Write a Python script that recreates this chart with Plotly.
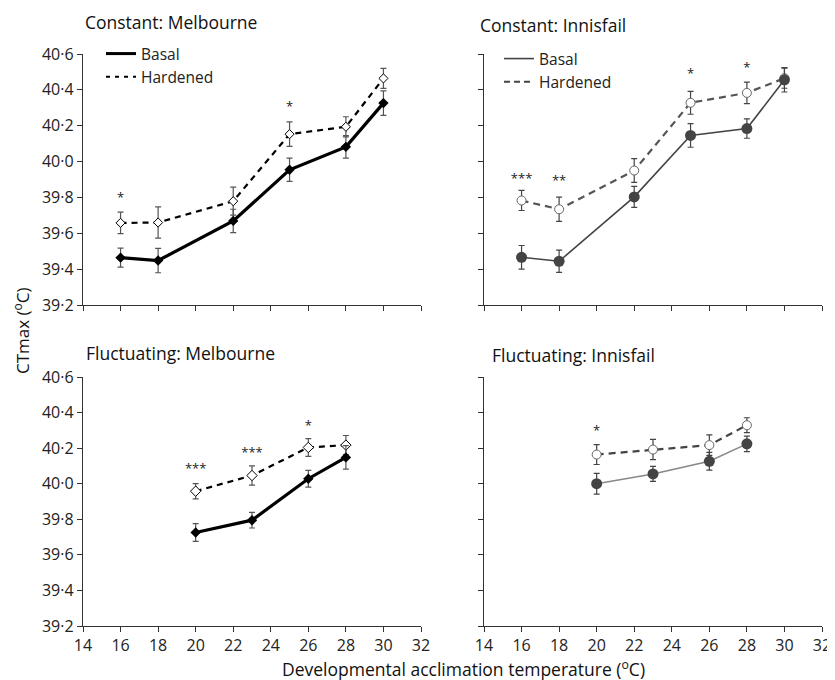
import plotly.graph_objects as go

# ---------------- data ----------------
temps_const = [16, 18, 22, 25, 28, 30]
temps_fluct = [20, 23, 26, 28]

cm_basal = [39.464, 39.448, 39.669, 39.954, 40.082, 40.326]
cm_basal_err = [0.053, 0.068, 0.065, 0.065, 0.063, 0.068]
cm_hard = [39.658, 39.660, 39.779, 40.153, 40.194, 40.464]
cm_hard_err = [0.060, 0.087, 0.078, 0.068, 0.056, 0.056]

ci_basal = [39.466, 39.444, 39.803, 40.146, 40.184, 40.456]
ci_basal_err = [0.066, 0.062, 0.059, 0.066, 0.054, 0.068]
ci_hard = [39.783, 39.734, 39.950, 40.328, 40.383, 40.465]
ci_hard_err = [0.056, 0.068, 0.066, 0.064, 0.060, 0.056]

fm_basal = [39.726, 39.795, 40.028, 40.148]
fm_basal_err = [0.050, 0.044, 0.047, 0.066]
fm_hard = [39.958, 40.046, 40.204, 40.217]
fm_hard_err = [0.043, 0.054, 0.050, 0.054]

fi_basal = [40.000, 40.055, 40.126, 40.224]
fi_basal_err = [0.058, 0.042, 0.050, 0.044]
fi_hard = [40.164, 40.192, 40.217, 40.329]
fi_hard_err = [0.056, 0.057, 0.058, 0.042]

# significance marks
cm_sig_x = [16, 25]
cm_sig_y = [39.79, 40.30]
cm_sig = ["*", "*"]
ci_sig_x = [16, 18, 25, 28]
ci_sig_y = [39.90, 39.89, 40.485, 40.515]
ci_sig = ["***", "**", "*", "*"]
fm_sig_x = [20, 23, 26]
fm_sig_y = [40.08, 40.17, 40.32]
fm_sig = ["***", "***", "*"]
fi_sig_x = [20]
fi_sig_y = [40.29]
fi_sig = ["*"]

x_ticks = [14, 16, 18, 20, 22, 24, 26, 28, 30, 32]
y_ticks = [39.2, 39.4, 39.6, 39.8, 40.0, 40.2, 40.4, 40.6]
y_ticktext = ["39·2", "39·4", "39·6", "39·8", "40·0", "40·2", "40·4", "40·6"]

titles = ["Constant: Melbourne", "Constant: Innisfail",
          "Fluctuating: Melbourne", "Fluctuating: Innisfail"]

FONT = "Open Sans"
OFF = 8  # page body margin
W, H = 835 - OFF, 680 - OFF

fig = go.Figure()

def px_x(p):
    return (p - OFF) / W

def px_y(p):
    return 1 - (p - OFF) / H

# axis domains
xdom_left = [px_x(83), px_x(421)]
xdom_right = [px_x(484), px_x(822)]
ydom_top = [px_y(305), px_y(54)]
ydom_bot = [px_y(626), px_y(377)]

def err(arr, color):
    return dict(type="data", array=arr, visible=True, color=color, thickness=1.2, width=3)

def add_series(x, y, e, xa, ya, line, marker, errcolor):
    fig.add_trace(go.Scatter(
        x=x, y=y, mode="lines+markers", xaxis=xa, yaxis=ya,
        line=line, marker=marker, error_y=err(e, errcolor), showlegend=False,
        hoverinfo="x+y"))

def add_sig(x, y, t, xa, ya):
    fig.add_trace(go.Scatter(
        x=x, y=y, text=t, mode="text", xaxis=xa, yaxis=ya, showlegend=False,
        textfont=dict(family=FONT, size=13, color="#222"), hoverinfo="skip"))

# Constant Melbourne (x, y)
add_series(temps_const, cm_hard, cm_hard_err, "x", "y",
           dict(color="black", width=2.2, dash="6px,5px"),
           dict(symbol="diamond", size=7, color="white", line=dict(color="black", width=1)),
           "#555")
add_series(temps_const, cm_basal, cm_basal_err, "x", "y",
           dict(color="black", width=3.2),
           dict(symbol="diamond", size=8, color="black"),
           "#555")
add_sig(cm_sig_x, cm_sig_y, cm_sig, "x", "y")

# Constant Innisfail (x2, y2)
add_series(temps_const, ci_hard, ci_hard_err, "x2", "y2",
           dict(color="#555", width=2.2, dash="7px,5px"),
           dict(symbol="circle", size=9, color="white", line=dict(color="#666", width=1)),
           "#444")
add_series(temps_const, ci_basal, ci_basal_err, "x2", "y2",
           dict(color="#444", width=1.6),
           dict(symbol="circle", size=11, color="#444"),
           "#444")
add_sig(ci_sig_x, ci_sig_y, ci_sig, "x2", "y2")

# Fluctuating Melbourne (x3, y3)
add_series(temps_fluct, fm_hard, fm_hard_err, "x3", "y3",
           dict(color="black", width=2.2, dash="6px,5px"),
           dict(symbol="diamond", size=8, color="white", line=dict(color="black", width=1)),
           "#555")
add_series(temps_fluct, fm_basal, fm_basal_err, "x3", "y3",
           dict(color="black", width=3.2),
           dict(symbol="diamond", size=8, color="black"),
           "#555")
add_sig(fm_sig_x, fm_sig_y, fm_sig, "x3", "y3")

# Fluctuating Innisfail (x4, y4)
add_series(temps_fluct, fi_hard, fi_hard_err, "x4", "y4",
           dict(color="#444", width=2.2, dash="7px,5px"),
           dict(symbol="circle", size=9, color="white", line=dict(color="#666", width=1)),
           "#444")
add_series(temps_fluct, fi_basal, fi_basal_err, "x4", "y4",
           dict(color="#888", width=1.6),
           dict(symbol="circle", size=11, color="#444"),
           "#444")
add_sig(fi_sig_x, fi_sig_y, fi_sig, "x4", "y4")

# legend entries
fig.add_trace(go.Scatter(x=[None], y=[None], mode="lines", name="Basal",
                         line=dict(color="black", width=3), legend="legend",
                         legendgroup="a"))
fig.add_trace(go.Scatter(x=[None], y=[None], mode="lines", name="Hardened",
                         line=dict(color="black", width=2, dash="4px,5px"), legend="legend",
                         legendgroup="b"))
fig.add_trace(go.Scatter(x=[None], y=[None], mode="lines", name="Basal",
                         line=dict(color="#444", width=1.6), legend="legend2",
                         legendgroup="c", xaxis="x2", yaxis="y2"))
fig.add_trace(go.Scatter(x=[None], y=[None], mode="lines", name="Hardened",
                         line=dict(color="#444", width=2, dash="6px,4px"), legend="legend2",
                         legendgroup="d", xaxis="x2", yaxis="y2"))

axis_common = dict(showline=True, linecolor="#333", linewidth=1.4, ticks="outside",
                   ticklen=5, tickwidth=1.2, tickcolor="#333", showgrid=False,
                   zeroline=False, automargin=False,
                   tickfont=dict(family=FONT, size=16, color="#222"))

def xaxis(dom, anchor, labels):
    d = dict(axis_common)
    d.update(domain=dom, anchor=anchor, range=[14, 32], tickvals=x_ticks,
             showticklabels=labels)
    return d

def yaxis(dom, anchor, labels):
    d = dict(axis_common)
    d.update(domain=dom, anchor=anchor, range=[39.2, 40.6], tickvals=y_ticks,
             ticktext=y_ticktext, showticklabels=labels)
    return d

fig.update_layout(
    width=W, height=H,
    margin=dict(l=0, r=0, t=0, b=0, pad=0, autoexpand=False),
    paper_bgcolor="white", plot_bgcolor="white",
    font=dict(family=FONT, color="#222"),
    xaxis=xaxis(xdom_left, "y", False),
    yaxis=yaxis(ydom_top, "x", True),
    xaxis2=xaxis(xdom_right, "y2", False),
    yaxis2=yaxis(ydom_top, "x2", False),
    xaxis3=xaxis(xdom_left, "y3", True),
    yaxis3=yaxis(ydom_bot, "x3", True),
    xaxis4=xaxis(xdom_right, "y4", True),
    yaxis4=yaxis(ydom_bot, "x4", False),
    legend=dict(x=px_x(101), y=px_y(37), xanchor="left", yanchor="top",
                bgcolor="rgba(0,0,0,0)", font=dict(family=FONT, size=15.5, color="#222"),
                traceorder="grouped", tracegroupgap=0),
    legend2=dict(x=px_x(499), y=px_y(42), xanchor="left", yanchor="top",
                 bgcolor="rgba(0,0,0,0)", font=dict(family=FONT, size=15.5, color="#222"),
                 traceorder="grouped", tracegroupgap=0),
    hovermode="closest",
)

annos = [
    (83, 22, titles[0]), (478, 25, titles[1]),
    (84, 353, titles[2]), (490, 355, titles[3]),
]
for xp, yp, t in annos:
    fig.add_annotation(x=px_x(xp), y=px_y(yp), xref="paper", yref="paper",
                       xanchor="left", yanchor="middle", text=t, showarrow=False,
                       font=dict(family=FONT, size=17.5, color="#111"))

fig.add_annotation(x=px_x(21), y=px_y(331), xref="paper", yref="paper",
                   text="CTmax (<sup>o</sup>C)", textangle=-90, showarrow=False,
                   xanchor="center", yanchor="middle",
                   font=dict(family=FONT, size=17, color="#111"))
fig.add_annotation(x=px_x(463), y=px_y(668), xref="paper", yref="paper",
                   text="Developmental acclimation temperature (<sup>o</sup>C)", showarrow=False,
                   xanchor="center", yanchor="middle",
                   font=dict(family=FONT, size=17.5, color="#111"))

fig.write_html("out.html")
